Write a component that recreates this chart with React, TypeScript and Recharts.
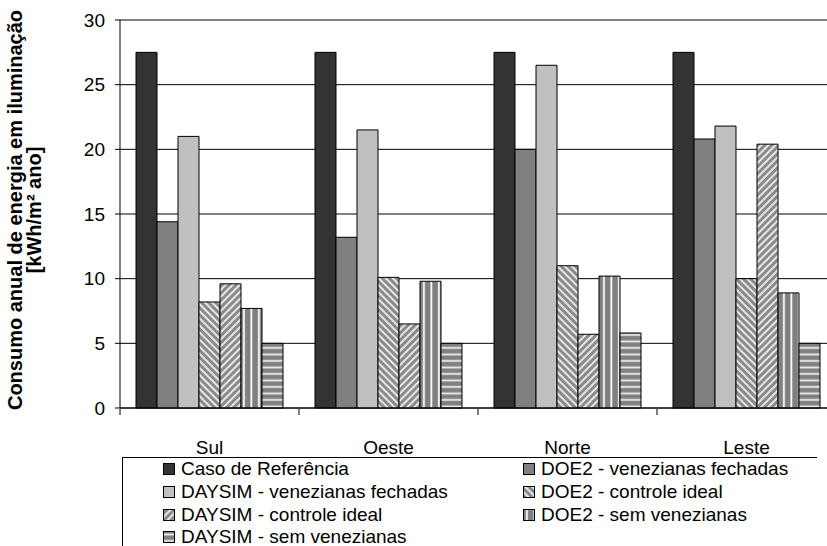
import { BarChart, Bar, XAxis, YAxis, CartesianGrid, Label } from 'recharts';

const categories = ['Sul', 'Oeste', 'Norte', 'Leste'];
const casoReferencia = [27.5, 27.5, 27.5, 27.5];
const doe2Fechadas = [14.4, 13.2, 20.0, 20.8];
const daysimFechadas = [21.0, 21.5, 26.5, 21.8];
const doe2Controle = [8.2, 10.1, 11.0, 10.0];
const daysimControle = [9.6, 6.5, 5.7, 20.4];
const doe2Sem = [7.7, 9.8, 10.2, 8.9];
const daysimSem = [5.0, 5.0, 5.8, 5.0];
const yTicks = [0, 5, 10, 15, 20, 25, 30];
const boundaryTicks = [0, 1, 2, 3, 4];

const SERIES = [
  { key: 'caso', name: 'Caso de Referência', values: casoReferencia, fill: '#333333' },
  { key: 'doe2F', name: 'DOE2 - venezianas fechadas', values: doe2Fechadas, fill: '#808080' },
  { key: 'daysimF', name: 'DAYSIM - venezianas fechadas', values: daysimFechadas, fill: '#C0C0C0' },
  { key: 'doe2C', name: 'DOE2 - controle ideal', values: doe2Controle, fill: 'url(#diagDown)' },
  { key: 'daysimC', name: 'DAYSIM - controle ideal', values: daysimControle, fill: 'url(#diagUp)' },
  { key: 'doe2S', name: 'DOE2 - sem venezianas', values: doe2Sem, fill: 'url(#vStripes)' },
  { key: 'daysimS', name: 'DAYSIM - sem venezianas', values: daysimSem, fill: 'url(#hStripes)' },
];

const data = categories.map((name, i) => {
  const row: Record<string, string | number> = { name, pos: i };
  for (const s of SERIES) row[s.key] = s.values[i];
  return row;
});

const FONT = '"Liberation Sans", Arial, sans-serif';

function PatternDefs() {
  return (
    <defs>
      <pattern id="diagDown" width="5" height="5" patternUnits="userSpaceOnUse" patternTransform="rotate(-45)">
        <rect width="5" height="5" fill="#8a8a8a" />
        <rect width="2" height="5" fill="#e6e6e6" />
      </pattern>
      <pattern id="diagUp" width="5" height="5" patternUnits="userSpaceOnUse" patternTransform="rotate(45)">
        <rect width="5" height="5" fill="#8a8a8a" />
        <rect width="2" height="5" fill="#e6e6e6" />
      </pattern>
      <pattern id="vStripes" width="7.5" height="4" patternUnits="userSpaceOnUse">
        <rect width="7.5" height="4" fill="#808080" />
        <rect x="3" width="1.8" height="4" fill="#ffffff" />
      </pattern>
      <pattern id="hStripes" width="4" height="6.5" patternUnits="userSpaceOnUse">
        <rect width="4" height="6.5" fill="#808080" />
        <rect y="2.5" width="4" height="1.8" fill="#f0f0f0" />
      </pattern>
    </defs>
  );
}

function YLabel(props: any) {
  const vb = props.viewBox || { x: 0, y: 20, height: 388 };
  const cy = vb.y + vb.height / 2 - 4;
  return (
    <g fontFamily={FONT} fontWeight="bold" fontSize={20} fill="#000">
      <text x={22} y={cy} textAnchor="middle" transform={`rotate(-90, 22, ${cy})`}>
        Consumo anual de energia em iluminação
      </text>
      <text x={41} y={cy} textAnchor="middle" transform={`rotate(-90, 41, ${cy})`}>
        [kWh/m² ano]
      </text>
    </g>
  );
}

function Swatch({ fill }: { fill: string }) {
  return (
    <svg width={12} height={12} style={{ display: 'block' }}>
      <PatternDefs />
      <rect x={0.5} y={0.5} width={11} height={11} fill={fill} stroke="#000" />
    </svg>
  );
}

function LegendBox() {
  const left = SERIES.filter((_, i) => i % 2 === 0);
  const right = SERIES.filter((_, i) => i % 2 === 1);
  const col = (items: typeof SERIES, x: number) =>
    items.map((s, r) => (
      <div
        key={s.key}
        style={{
          position: 'absolute',
          left: x,
          top: 468 + r * 22.8 - 457 - 12,
          height: 24,
          display: 'flex',
          alignItems: 'center',
          gap: 6,
          whiteSpace: 'nowrap',
        }}
      >
        <Swatch fill={s.fill} />
        <span style={{ fontFamily: FONT, fontSize: 19, color: '#000' }}>{s.name}</span>
      </div>
    ));
  return (
    <div
      style={{
        position: 'absolute',
        left: 122,
        top: 457,
        width: 695,
        height: 120,
        borderLeft: '1px solid #000',
        borderTop: '1px solid #000',
        boxSizing: 'border-box',
      }}
    >
      {col(left, 40)}
      {col(right, 400)}
    </div>
  );
}

export default function App() {
  return (
    <div
      style={{
        position: 'fixed',
        left: 0,
        top: 0,
        width: 827,
        height: 546,
        overflow: 'hidden',
        background: '#fff',
      }}
    >
      <BarChart
        width={860}
        height={546}
        data={data}
        margin={{ top: 20, right: 24, bottom: 136, left: 0 }}
        barCategoryGap={16}
        barGap={0}
      >
        <PatternDefs />
        <CartesianGrid vertical={false} stroke="#000" strokeWidth={1} />
        <XAxis
          dataKey="name"
          height={1}
          tickLine={false}
          tickSize={0}
          tickMargin={33}
          axisLine={{ stroke: '#000' }}
          tick={{ fontFamily: FONT, fontSize: 19, fill: '#000' }}
          interval={0}
        />
        <XAxis
          xAxisId="bounds"
          type="number"
          dataKey="pos"
          domain={[0, 4]}
          ticks={boundaryTicks}
          height={1}
          axisLine={false}
          tickLine={{ stroke: '#000' }}
          tickSize={6}
          tickFormatter={() => ''}
          allowDataOverflow
        />
        <YAxis
          width={120}
          domain={[0, 30]}
          ticks={yTicks}
          tickSize={5}
          tickMargin={10}
          axisLine={{ stroke: '#000' }}
          tickLine={{ stroke: '#000' }}
          tick={{ fontFamily: FONT, fontSize: 19, fill: '#000' }}
        >
          <Label content={<YLabel />} />
        </YAxis>
        {SERIES.map((s) => (
          <Bar
            key={s.key}
            dataKey={s.key}
            name={s.name}
            fill={s.fill}
            stroke="#000"
            strokeWidth={1}
            isAnimationActive={false}
          />
        ))}
      </BarChart>
      <LegendBox />
    </div>
  );
}
